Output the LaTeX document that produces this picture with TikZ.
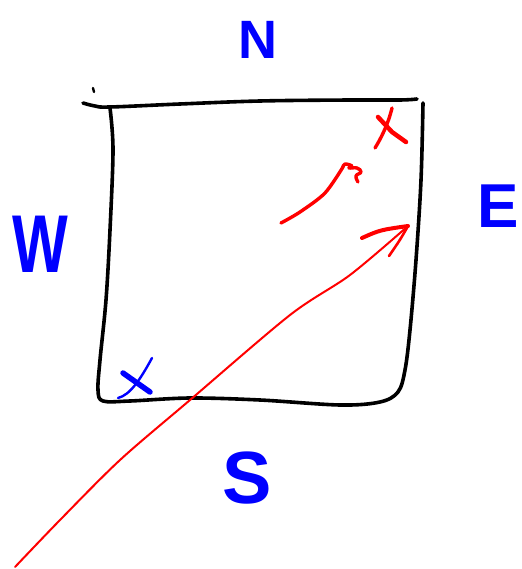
\documentclass[tikz,border=0pt]{standalone}
\usepackage{fontspec}
\setmainfont{Liberation Sans}
\begin{document}
\begin{tikzpicture}[x=1pt,y=-1pt,
  pen/.style={line cap=round,line join=round},
  boxline/.style={pen,draw=black,line width=3.6pt},
  redline/.style={pen,draw=red,line width=2pt},
  redthick/.style={pen,draw=red,line width=3.4pt},
  bluethick/.style={pen,draw=blue,line width=3pt},
  dirlabel/.style={text=blue,inner sep=0pt,anchor=center}]
\useasboundingbox (0,0) rectangle (521,569);
% box
\draw[boxline] plot[smooth,tension=0.6] coordinates {(83,103) (95,106) (110,107) (180,104) (260,101) (350,100) (400,100) (417,99)};
\draw[boxline,line width=2.4pt] (93,88) -- (94,92);
\draw[boxline] plot[smooth,tension=0.55] coordinates {(110,108) (113,150) (110,230) (106,300) (100,360) (98,390) (103,401) (130,401) (190,398) (260,400) (340,405) (380,402) (398,392) (405,370) (410,330) (416,260) (421,180) (423,103)};
% labels
\node[dirlabel,font=\bfseries\fontsize{54}{54}\selectfont] (n) at (258,40) {N};
\node[dirlabel,font=\bfseries\fontsize{82}{82}\selectfont,xscale=0.72] (w) at (40,244) {W};
\node[dirlabel,font=\bfseries\fontsize{62}{62}\selectfont] (e) at (498,206) {E};
\node[dirlabel,font=\bfseries\fontsize{74}{74}\selectfont] (s) at (247,478) {S};
% long red arrow
\coordinate (la) at (15,567);
\coordinate (lb) at (408,226);
\draw[redline] plot[smooth,tension=0.5] coordinates {(la) (60,520) (120,460) (190,400) (290,315) (350,275) (lb)};
\draw[redthick,line width=4pt] (362,238) .. controls (380,230) .. (lb);
\draw[redline,line width=2.6pt] (lb) .. controls (400,240) .. (389,256);
% short red arrow
\coordinate (sa) at (281,223);
\coordinate (sb) at (343,167);
\draw[redthick] plot[smooth,tension=0.5] coordinates {(sa) (300,212) (325,193) (sb)};
\draw[redthick] plot[smooth,tension=0.7] coordinates {(sb) (345,164) (352,166) (349,168) (357,168) (361,172) (356,176) (358,182)};
% red cross
\draw[redthick,line width=4.5pt] (378,117) -- (392,132) -- (406,142);
\draw[redthick] (392,108) .. controls (388,125) and (380,140) .. (375,148);
% blue cross
\draw[bluethick,line width=5.5pt] (123,373) -- (150,392);
\draw[bluethick,line width=2.4pt] (152,358) .. controls (140,380) and (130,395) .. (118,398);
\end{tikzpicture}
\end{document}
